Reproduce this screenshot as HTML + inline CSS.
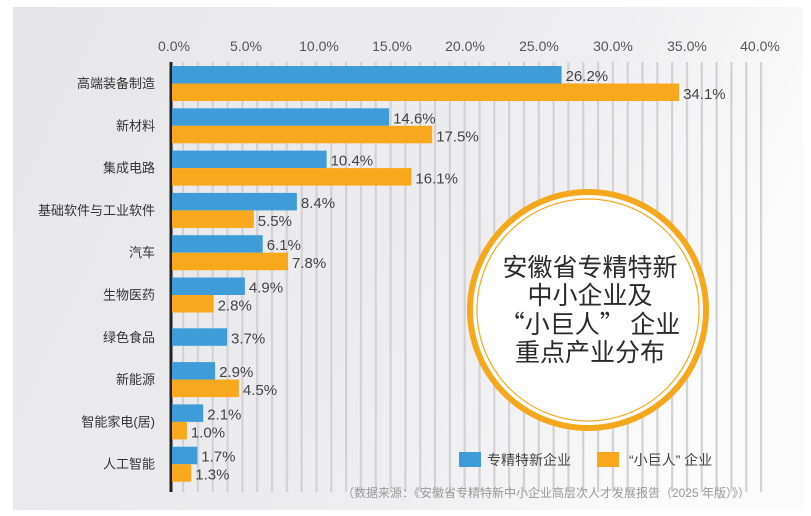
<!DOCTYPE html>
<html><head><meta charset="utf-8"><style>
html,body{margin:0;padding:0;background:#fff;}
svg{display:block;font-family:"Liberation Sans","Noto Sans CJK SC",sans-serif;}
</style></head><body>
<svg width="811" height="516" viewBox="0 0 811 516" xmlns="http://www.w3.org/2000/svg">
<defs>
<linearGradient id="bg" x1="0" y1="0" x2="1" y2="0.3">
<stop offset="0" stop-color="#e6e6e8"/><stop offset="0.7" stop-color="#eeeef0"/><stop offset="1" stop-color="#fbfbfb"/>
</linearGradient>
<pattern id="gp" x="182" y="0" width="14.82" height="10" patternUnits="userSpaceOnUse">
<rect x="0" y="0" width="2.2" height="10" fill="#d2d2d4"/>
</pattern>
</defs>
<rect x="0" y="0" width="811" height="516" fill="#fff"/>
<rect x="13" y="7" width="790" height="503" fill="url(#bg)"/>
<rect x="182" y="62" width="582" height="430" fill="url(#gp)"/>
<line x1="171" y1="62" x2="171" y2="492" stroke="#222" stroke-width="3"/>
<g font-size="14" fill="#555" text-anchor="middle">
<text x="174" y="51">0.0%</text><text x="246" y="51">5.0%</text><text x="319" y="51">10.0%</text><text x="392" y="51">15.0%</text><text x="465" y="51">20.0%</text><text x="539" y="51">25.0%</text><text x="613" y="51">30.0%</text><text x="687" y="51">35.0%</text><text x="760" y="51">40.0%</text>
</g>
<g font-size="13" fill="#333" text-anchor="end">
<text x="155" y="88">高端装备制造</text>
<text x="155" y="130.3">新材料</text>
<text x="155" y="172.6">集成电路</text>
<text x="155" y="214.9">基础软件与工业软件</text>
<text x="155" y="257.2">汽车</text>
<text x="155" y="299.5">生物医药</text>
<text x="155" y="341.8">绿色食品</text>
<text x="155" y="384.1">新能源</text>
<text x="155" y="426.4">智能家电(居)</text>
<text x="155" y="468.7">人工智能</text>
</g>
<g fill="#3e9dd8">
<rect x="172" y="66" width="389.6" height="17.5"/>
<rect x="172" y="108.3" width="217.1" height="17.5"/>
<rect x="172" y="150.6" width="154.6" height="17.5"/>
<rect x="172" y="192.9" width="124.9" height="17.5"/>
<rect x="172" y="235.2" width="90.7" height="17.5"/>
<rect x="172" y="277.5" width="72.9" height="17.5"/>
<rect x="172" y="328.3" width="55" height="17.5"/>
<rect x="172" y="362.1" width="43.1" height="17.5"/>
<rect x="172" y="404.4" width="31.2" height="17.5"/>
<rect x="172" y="446.7" width="25.3" height="17.5"/>
</g>
<g fill="#f8a81c">
<rect x="172" y="83.5" width="507.1" height="17.5"/>
<rect x="172" y="125.8" width="260.2" height="17.5"/>
<rect x="172" y="168.1" width="239.4" height="17.5"/>
<rect x="172" y="210.4" width="81.8" height="17.5"/>
<rect x="172" y="252.7" width="116" height="17.5"/>
<rect x="172" y="295" width="41.6" height="17.5"/>
<rect x="172" y="379.6" width="66.9" height="17.5"/>
<rect x="172" y="421.9" width="14.9" height="17.5"/>
<rect x="172" y="464.2" width="19.3" height="17.5"/>
</g>
<g font-size="15" fill="#444">
<text x="565.6" y="81">26.2%</text><text x="683.1" y="99">34.1%</text>
<text x="393.1" y="123.3">14.6%</text><text x="436.2" y="141.3">17.5%</text>
<text x="330.6" y="165.6">10.4%</text><text x="415.4" y="183.6">16.1%</text>
<text x="300.9" y="207.9">8.4%</text><text x="257.8" y="225.9">5.5%</text>
<text x="266.7" y="250.2">6.1%</text><text x="292" y="268.2">7.8%</text>
<text x="248.9" y="292.5">4.9%</text><text x="217.6" y="310.5">2.8%</text>
<text x="231" y="343.3">3.7%</text>
<text x="219.1" y="377.1">2.9%</text><text x="242.9" y="395.1">4.5%</text>
<text x="207.2" y="419.4">2.1%</text><text x="190.9" y="437.4">1.0%</text>
<text x="201.3" y="461.7">1.7%</text><text x="195.3" y="479.7">1.3%</text>
</g>
<circle cx="588" cy="310" r="118" fill="#fff" stroke="#f5a81c" stroke-width="6"/>
<circle cx="588" cy="310" r="111" fill="none" stroke="#f5a81c" stroke-width="1.2"/>
<g font-size="25" fill="#2a2a2a" text-anchor="middle" font-family="'Noto Sans CJK SC',sans-serif">
<text x="590" y="276">安徽省专精特新</text>
<text x="590" y="304">中小企业及</text>
<text x="590" y="333">“小巨人” 企业</text>
<text x="590" y="361">重点产业分布</text>
</g>
<rect x="459" y="452" width="22" height="15" fill="#3e9dd8"/>
<text x="487" y="465" font-size="14" fill="#444">专精特新企业</text>
<rect x="597" y="452" width="22" height="15" fill="#f8a81c"/>
<text x="629" y="465" font-size="14" fill="#444">“小巨人” 企业</text>
<text x="750" y="497" font-size="12" fill="#999" text-anchor="end">（数据来源：《安徽省专精特新中小企业高层次人才发展报告（2025 年版）》）</text>
</svg>
</body></html>
